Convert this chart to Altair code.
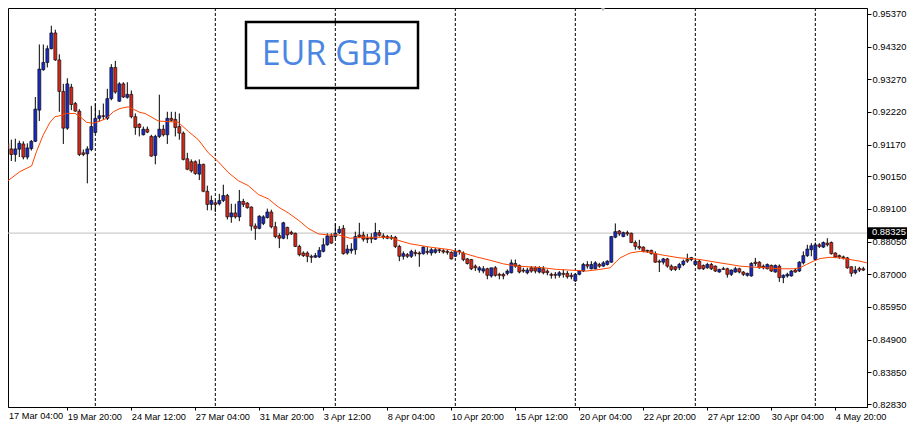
import json
import altair as alt
import pandas as pd

PAIR = "EUR GBP"
BID = 0.88325

OPEN = [0.91232, 0.91211, 0.91031, 0.90852, 0.91021, 0.91190, 0.90768, 0.91042, 0.91274, 0.92277,
        0.93575, 0.93808, 0.94251, 0.94758, 0.93892, 0.92879, 0.91697, 0.93016, 0.92488, 0.92245,
        0.90905, 0.90873, 0.91010, 0.91559, 0.92013, 0.92098, 0.92013, 0.92647, 0.93649, 0.92562,
        0.93122, 0.92689, 0.92784, 0.92066, 0.91823, 0.91485, 0.91665, 0.91432, 0.90820, 0.91432,
        0.91665, 0.91485, 0.92013, 0.91981, 0.91749, 0.91538, 0.90715, 0.90620, 0.90620, 0.90218,
        0.90535, 0.89669, 0.89247, 0.89300, 0.89268, 0.89374, 0.89532, 0.88846, 0.88973, 0.88846,
        0.89342, 0.89289, 0.89163, 0.88551, 0.88477, 0.88635, 0.88825, 0.89004, 0.88529, 0.88244,
        0.88160, 0.88508, 0.88350, 0.88318, 0.87896, 0.87685, 0.87685, 0.87579, 0.87548, 0.87558,
        0.87738, 0.87949, 0.88234, 0.88213, 0.88339, 0.88477, 0.87685, 0.87759, 0.87790, 0.88265,
        0.88265, 0.88160, 0.88181, 0.88128, 0.88339, 0.88234, 0.88213, 0.88192, 0.88192, 0.87896,
        0.87579, 0.87632, 0.87579, 0.87706, 0.87685, 0.87664, 0.87738, 0.87685, 0.87706, 0.87790,
        0.87759, 0.87738, 0.87706, 0.87579, 0.87759, 0.87685, 0.87495, 0.87474, 0.87263, 0.87136,
        0.87104, 0.87178, 0.86946, 0.87210, 0.86999, 0.86999, 0.87030, 0.87051, 0.87347, 0.87284,
        0.87136, 0.87051, 0.87210, 0.87210, 0.87073, 0.87178, 0.87104, 0.86999, 0.86999, 0.86967,
        0.87030, 0.87030, 0.86967, 0.86788, 0.86999, 0.87105, 0.87316, 0.87179, 0.87179, 0.87316,
        0.87263, 0.87316, 0.87390, 0.88192, 0.88393, 0.88213, 0.88340, 0.88319, 0.88023, 0.87897,
        0.87875, 0.87770, 0.87770, 0.87664, 0.87422, 0.87390, 0.87495, 0.87263, 0.87242, 0.87210,
        0.87316, 0.87474, 0.87474, 0.87316, 0.87422, 0.87284, 0.87210, 0.87316, 0.87263, 0.87073,
        0.87179, 0.87179, 0.86999, 0.87073, 0.87179, 0.87073, 0.86968, 0.86947, 0.87390, 0.87390,
        0.87263, 0.87179, 0.87284, 0.87073, 0.87263, 0.86894, 0.86947, 0.86947, 0.87137, 0.87105,
        0.87369, 0.87601, 0.87790, 0.87474, 0.87949, 0.87875, 0.88002, 0.88023, 0.87685, 0.87601,
        0.87559, 0.87527, 0.87242, 0.87052, 0.87189, 0.87178]

HIGH = [0.91316, 0.91359, 0.91327, 0.91359, 0.91295, 0.91274, 0.91211, 0.91316, 0.92699, 0.94388,
        0.94388, 0.94357, 0.94990, 0.94863, 0.94072, 0.93122, 0.93301, 0.93122, 0.92541, 0.92309,
        0.91010, 0.91116, 0.92414, 0.92488, 0.92277, 0.92488, 0.92963, 0.93755, 0.93860, 0.93174,
        0.93174, 0.93174, 0.92910, 0.92171, 0.91855, 0.91749, 0.91749, 0.91485, 0.91485, 0.92773,
        0.91802, 0.92224, 0.92224, 0.92224, 0.92171, 0.91591, 0.90905, 0.90693, 0.90662, 0.90693,
        0.90556, 0.89849, 0.89532, 0.89374, 0.89585, 0.89881, 0.89585, 0.89268, 0.89268, 0.89712,
        0.89427, 0.89321, 0.89184, 0.88635, 0.88899, 0.88899, 0.89110, 0.89078, 0.88688, 0.88318,
        0.88688, 0.88529, 0.88403, 0.88339, 0.87949, 0.87738, 0.87738, 0.87632, 0.87685, 0.87875,
        0.88160, 0.88318, 0.88318, 0.88635, 0.88551, 0.88582, 0.87949, 0.88001, 0.88371, 0.88656,
        0.88371, 0.88297, 0.88318, 0.88656, 0.88424, 0.88318, 0.88265, 0.88265, 0.88234, 0.87949,
        0.87738, 0.87685, 0.87790, 0.87790, 0.87738, 0.87896, 0.87875, 0.87843, 0.87843, 0.87843,
        0.87811, 0.87790, 0.87738, 0.87790, 0.87790, 0.87738, 0.87526, 0.87495, 0.87315, 0.87263,
        0.87263, 0.87210, 0.87210, 0.87263, 0.87051, 0.87051, 0.87157, 0.87474, 0.87474, 0.87315,
        0.87210, 0.87210, 0.87263, 0.87263, 0.87263, 0.87263, 0.87157, 0.87051, 0.87073, 0.87104,
        0.87157, 0.87104, 0.87051, 0.87030, 0.87137, 0.87369, 0.87422, 0.87422, 0.87422, 0.87369,
        0.87422, 0.87453, 0.88234, 0.88635, 0.88424, 0.88372, 0.88403, 0.88340, 0.88087, 0.88108,
        0.87897, 0.87790, 0.87790, 0.87738, 0.87474, 0.87527, 0.87527, 0.87316, 0.87263, 0.87369,
        0.87474, 0.87664, 0.87559, 0.87474, 0.87474, 0.87316, 0.87369, 0.87369, 0.87284, 0.87179,
        0.87242, 0.87210, 0.87158, 0.87242, 0.87210, 0.87105, 0.87052, 0.87390, 0.87527, 0.87422,
        0.87316, 0.87348, 0.87316, 0.87316, 0.87316, 0.86999, 0.87052, 0.87137, 0.87179, 0.87422,
        0.87738, 0.87949, 0.88002, 0.88023, 0.88002, 0.88055, 0.88160, 0.88055, 0.87707, 0.87633,
        0.87601, 0.87559, 0.87263, 0.87263, 0.87242, 0.87242]

LOW = [0.91126, 0.90852, 0.90641, 0.90620, 0.90768, 0.90694, 0.90694, 0.90979, 0.91253, 0.91929,
       0.93544, 0.93649, 0.94230, 0.93860, 0.92224, 0.91190, 0.91644, 0.92277, 0.92224, 0.90799,
       0.90799, 0.89923, 0.90958, 0.91538, 0.91908, 0.91960, 0.91960, 0.92594, 0.92805, 0.92541,
       0.92668, 0.92647, 0.92013, 0.91485, 0.91433, 0.91464, 0.91538, 0.90778, 0.90535, 0.91380,
       0.91432, 0.91190, 0.91907, 0.91432, 0.91327, 0.90662, 0.90345, 0.90271, 0.90197, 0.90028,
       0.89638, 0.89057, 0.89057, 0.89004, 0.89216, 0.89321, 0.88762, 0.88656, 0.88793, 0.88709,
       0.89163, 0.89110, 0.88403, 0.88107, 0.88445, 0.88582, 0.88793, 0.88477, 0.88160, 0.87843,
       0.88128, 0.88128, 0.88266, 0.87875, 0.87579, 0.87558, 0.87389, 0.87368, 0.87527, 0.87527,
       0.87706, 0.87917, 0.87981, 0.88160, 0.88297, 0.87632, 0.87632, 0.87664, 0.87632, 0.88160,
       0.88054, 0.88001, 0.88001, 0.88107, 0.88213, 0.88128, 0.88128, 0.88107, 0.87843, 0.87421,
       0.87474, 0.87526, 0.87526, 0.87579, 0.87241, 0.87632, 0.87632, 0.87600, 0.87664, 0.87685,
       0.87664, 0.87632, 0.87474, 0.87558, 0.87632, 0.87421, 0.87315, 0.87136, 0.87104, 0.87051,
       0.87030, 0.86840, 0.86893, 0.86925, 0.86840, 0.86840, 0.86967, 0.87030, 0.87210, 0.87030,
       0.87051, 0.86999, 0.87051, 0.87030, 0.87030, 0.86999, 0.86967, 0.86861, 0.86861, 0.86893,
       0.86893, 0.86861, 0.86840, 0.86756, 0.86968, 0.87073, 0.87179, 0.87158, 0.87158, 0.87210,
       0.87242, 0.87284, 0.87369, 0.88160, 0.88234, 0.88192, 0.88234, 0.88002, 0.87790, 0.87790,
       0.87707, 0.87685, 0.87633, 0.87369, 0.87073, 0.87316, 0.87210, 0.87105, 0.87105, 0.87137,
       0.87263, 0.87369, 0.87422, 0.87263, 0.87158, 0.87137, 0.87179, 0.87137, 0.87073, 0.87052,
       0.87137, 0.86894, 0.86947, 0.87052, 0.87031, 0.86947, 0.86926, 0.86926, 0.87263, 0.87179,
       0.87158, 0.87158, 0.87073, 0.87052, 0.86757, 0.86714, 0.86894, 0.86926, 0.87052, 0.87073,
       0.87316, 0.87559, 0.87580, 0.87453, 0.87844, 0.87844, 0.87897, 0.87633, 0.87527, 0.87495,
       0.87474, 0.87179, 0.86926, 0.86999, 0.87073, 0.87105]

CLOSE = [0.91211, 0.91021, 0.90852, 0.91031, 0.91211, 0.90768, 0.91063, 0.91274, 0.92309, 0.93597,
         0.93808, 0.94251, 0.94758, 0.93892, 0.92879, 0.91697, 0.93122, 0.92457, 0.92245, 0.90852,
         0.90852, 0.91031, 0.91749, 0.92013, 0.92098, 0.92076, 0.92647, 0.93649, 0.92858, 0.93122,
         0.92699, 0.92784, 0.92066, 0.91718, 0.91718, 0.91665, 0.91570, 0.90799, 0.91432, 0.91665,
         0.91485, 0.92013, 0.91950, 0.91717, 0.91538, 0.90693, 0.90377, 0.90324, 0.90240, 0.90535,
         0.89669, 0.89247, 0.89374, 0.89247, 0.89374, 0.89532, 0.88846, 0.88973, 0.88846, 0.89342,
         0.89247, 0.89142, 0.88551, 0.88477, 0.88867, 0.88846, 0.89004, 0.88529, 0.88213, 0.88160,
         0.88656, 0.88266, 0.88297, 0.87896, 0.87632, 0.87601, 0.87579, 0.87548, 0.87601, 0.87769,
         0.87949, 0.88234, 0.88002, 0.88318, 0.88445, 0.87664, 0.87811, 0.87811, 0.88213, 0.88213,
         0.88128, 0.88128, 0.88139, 0.88339, 0.88255, 0.88192, 0.88160, 0.88160, 0.87896, 0.87579,
         0.87664, 0.87579, 0.87738, 0.87664, 0.87653, 0.87875, 0.87706, 0.87790, 0.87790, 0.87759,
         0.87716, 0.87706, 0.87495, 0.87738, 0.87727, 0.87474, 0.87347, 0.87178, 0.87210, 0.87210,
         0.87178, 0.86967, 0.87210, 0.86967, 0.86967, 0.86946, 0.87104, 0.87368, 0.87263, 0.87073,
         0.87104, 0.87136, 0.87104, 0.87104, 0.87210, 0.87051, 0.87051, 0.86967, 0.86967, 0.87051,
         0.86999, 0.86925, 0.86925, 0.86999, 0.87105, 0.87316, 0.87263, 0.87316, 0.87369, 0.87263,
         0.87369, 0.87422, 0.88213, 0.88372, 0.88298, 0.88340, 0.88298, 0.88023, 0.87897, 0.87844,
         0.87738, 0.87738, 0.87664, 0.87390, 0.87390, 0.87495, 0.87263, 0.87158, 0.87158, 0.87316,
         0.87422, 0.87422, 0.87538, 0.87422, 0.87179, 0.87179, 0.87316, 0.87179, 0.87105, 0.87158,
         0.87158, 0.86999, 0.87137, 0.87179, 0.87073, 0.86999, 0.87031, 0.87348, 0.87348, 0.87210,
         0.87210, 0.87316, 0.87105, 0.87284, 0.86894, 0.86968, 0.86999, 0.87105, 0.87073, 0.87390,
         0.87601, 0.87812, 0.87918, 0.87949, 0.87897, 0.88023, 0.87949, 0.87664, 0.87559, 0.87559,
         0.87527, 0.87210, 0.87031, 0.87137, 0.87136, 0.87136]

# moving average: bar position -> value
MA_IDX = [-0.83, 1.67, 4.17, 7.08, 8.33, 10.0, 11.67, 12.92, 14.17, 15.83, 17.92, 19.17, 20.83,
          22.5, 24.17, 25.83, 27.5, 29.17, 31.25, 32.5, 34.17, 35.42, 38.75, 41.25, 43.75, 46.25,
          48.75, 51.25, 53.75, 56.25, 58.75, 61.25, 63.75, 66.25, 68.75, 71.25, 73.75, 76.25,
          78.75, 81.25, 83.75, 86.67, 90.0, 96.67, 98.33, 101.67, 106.67, 111.67, 115.0, 118.33,
          121.67, 125.0, 128.33, 131.67, 135.0, 138.33, 141.67, 145.83, 149.17, 151.67, 153.33,
          154.17, 156.67, 159.17, 161.67, 164.17, 166.67, 169.17, 171.67, 174.17, 176.67, 179.17,
          181.67, 184.17, 187.5, 190.83, 194.17, 197.5, 199.17, 200.83, 202.5, 204.17, 206.67,
          209.17, 211.67, 214.17, 215.9]
MA_VAL = [0.89818, 0.90059, 0.90303, 0.90484, 0.90958, 0.91484, 0.91886, 0.92067, 0.92098, 0.92171,
          0.92171, 0.92067, 0.91886, 0.91855, 0.91927, 0.92013, 0.92225, 0.92330, 0.92383, 0.92307,
          0.92203, 0.92171, 0.91927, 0.91908, 0.91886, 0.91592, 0.91326, 0.90905, 0.90620, 0.90271,
          0.90008, 0.89850, 0.89565, 0.89426, 0.89163, 0.88973, 0.88742, 0.88476, 0.88298, 0.88267,
          0.88267, 0.88159, 0.88191, 0.88191, 0.88108, 0.87982, 0.87874, 0.87792, 0.87684, 0.87557,
          0.87453, 0.87336, 0.87263, 0.87241, 0.87209, 0.87158, 0.87136, 0.87105, 0.87158, 0.87209,
          0.87421, 0.87526, 0.87684, 0.87738, 0.87706, 0.87633, 0.87580, 0.87526, 0.87507, 0.87475,
          0.87421, 0.87367, 0.87317, 0.87263, 0.87231, 0.87209, 0.87177, 0.87177, 0.87209, 0.87317,
          0.87421, 0.87507, 0.87548, 0.87526, 0.87475, 0.87421, 0.87367]

SEP_IDX = [23, 53, 83, 113, 143, 173, 203]
TICK_IDX = [0, 16, 32, 48, 64, 80, 96, 112, 128, 144, 160, 176, 192, 208]
TIME_LABELS = ["17 Mar 04:00", "19 Mar 20:00", "24 Mar 12:00", "27 Mar 04:00", "31 Mar 20:00",
               "3 Apr 12:00", "8 Apr 04:00", "10 Apr 20:00", "15 Apr 12:00", "20 Apr 04:00",
               "22 Apr 20:00", "27 Apr 12:00", "30 Apr 04:00", "4 May 20:00"]
PRICE_TICKS = [0.95370, 0.94320, 0.93270, 0.92220, 0.91170, 0.90150, 0.89100, 0.88050,
               0.87000, 0.85950, 0.84900, 0.83850, 0.82830]

W, H = 859, 399
RIGHT_PAD, BOTTOM_PAD = 40, 16
FONT = "Liberation Sans"
XFS, YFS = 9.2, 9.4
BLUE = "#1c2bb8"
RED = "#d0281c"

candles = pd.DataFrame({"i": list(range(len(OPEN))), "o": OPEN, "h": HIGH, "l": LOW, "c": CLOSE})
ma = pd.DataFrame({"i": MA_IDX, "v": MA_VAL})
seps = pd.DataFrame({"i": SEP_IDX})
bid = pd.DataFrame({"p": [BID], "t": [f"{BID:.5f}"]})
title = pd.DataFrame({"t": [PAIR]})
first_label = pd.DataFrame({"t": [TIME_LABELS[0]]})

xscale = alt.Scale(domain=[1.17, 215.92], nice=False, zero=False, padding=0)
yscale = alt.Scale(domain=[0.82735, 0.95560], nice=False, zero=False, padding=0)

label_expr = f"{json.dumps(TIME_LABELS)}[indexof({json.dumps(TICK_IDX)}, datum.value)]"
xaxis = alt.Axis(values=TICK_IDX, labelExpr=label_expr, labelAlign="left", labelFont=FONT,
                 labelFontSize=XFS, labelColor="#000000", tickColor="#000000", tickSize=3,
                 domainColor="#000000", grid=False, title=None, labelOverlap=False,
                 labelFlush=False, labelPadding=2)
yaxis = alt.Axis(orient="right", values=PRICE_TICKS, format=".5f", labelFont=FONT,
                 labelFontSize=YFS, labelColor="#000000", tickColor="#000000", tickSize=4,
                 domainColor="#000000", grid=False, title=None, labelPadding=1)


def X(field):
    return alt.X(field, type="quantitative", scale=xscale, axis=xaxis)


def Y(field):
    return alt.Y(field, type="quantitative", scale=yscale, axis=yaxis)


sep_layer = alt.Chart(seps).mark_rule(color="#000000", strokeDash=[3, 2], strokeWidth=1).encode(
    x=X("i"))

bid_layer = alt.Chart(bid).mark_rule(color="#c0c0c0", strokeWidth=1).encode(y=Y("p"))

wick_layer = alt.Chart(candles).mark_rule(color="#000000", strokeWidth=1).encode(
    x=X("i"), y=Y("l"), y2="h")

body_layer = alt.Chart(candles).mark_bar(size=3, stroke="#000000", strokeWidth=0.6).encode(
    x=X("i"), y=Y("o"), y2="c",
    color=alt.condition("datum.c >= datum.o", alt.value(BLUE), alt.value(RED)))

ma_layer = alt.Chart(ma).mark_line(color="#ff4500", strokeWidth=1).encode(
    x=X("i"), y=Y("v"))

box_layer = alt.Chart(title).mark_rect(fillOpacity=0, stroke="#000000", strokeWidth=2.5).encode(
    x=alt.value(238), x2=alt.value(410), y=alt.value(14), y2=alt.value(80))

title_layer = alt.Chart(title).mark_text(font="Open Sans", fontSize=34, color="#4a86e2",
                                         align="center", baseline="middle").encode(
    x=alt.value(324), y=alt.value(47), text="t:N")

bid_box = alt.Chart(bid).transform_calculate(
    lo="datum.p - 0.0019", hi="datum.p + 0.0019").mark_rect(color="#000000").encode(
    x=alt.value(W + 1), x2=alt.value(W + RIGHT_PAD), y=Y("lo:Q"), y2="hi:Q")

bid_text = alt.Chart(bid).mark_text(font=FONT, fontSize=YFS, color="#ffffff", align="left",
                                    baseline="middle", dy=-1).encode(
    x=alt.value(W + 5), y=Y("p"), text="t:N")

# first time label: its bar lies just left of the visible plot, so it is set at the left edge
first_text = alt.Chart(first_label).mark_text(font=FONT, fontSize=XFS, color="#000000",
                                              align="left", baseline="top").encode(
    x=alt.value(1), y=alt.value(H + 5), text="t:N")

shift_mark = alt.Chart(title).mark_point(shape="triangle-down", filled=True, color="#b4b4b4",
                                         size=30, opacity=1).encode(
    x=alt.value(595), y=alt.value(1))

chart = alt.layer(
    sep_layer, bid_layer, wick_layer, body_layer, ma_layer, box_layer, title_layer,
    bid_box, bid_text, first_text, shift_mark
).properties(
    width=W, height=H, background="#ffffff",
    autosize=alt.AutoSizeParams(type="none"),
    padding={"left": 0, "top": 0, "right": RIGHT_PAD, "bottom": BOTTOM_PAD}
).configure_view(
    stroke="#000000", strokeWidth=1
)

chart.save("out.html", embed_options={"renderer": "svg", "actions": False})
